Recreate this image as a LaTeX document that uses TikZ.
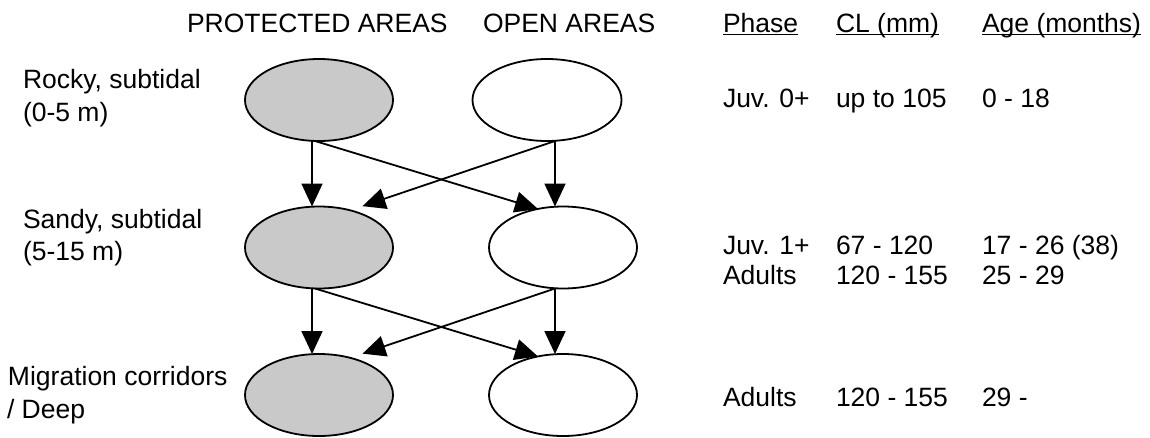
\documentclass[tikz,border=0pt]{standalone}
\usepackage{fontspec}
\setmainfont{Liberation Sans}
\usetikzlibrary{shapes.geometric,arrows.meta}
\begin{document}
\begin{tikzpicture}[x=1pt,y=-1pt,
  every node/.style={inner sep=0pt,outer sep=0pt},
  lbl/.style={anchor=base west,font=\fontsize{26.5}{32}\selectfont},
  zone/.style={ellipse,draw=black,line width=1.8pt,minimum width=148pt,minimum height=82pt},
  prot/.style={zone,fill=gray!42},
  open/.style={zone,fill=white},
  arr/.style={line width=1.8pt,-{Triangle[length=23pt,width=21pt]}},
  uline/.style={line width=1.3pt}]
\useasboundingbox (0,0) rectangle (1150,437);
% column headers
\node[lbl] (hp) at (187,32) {PROTECTED AREAS};
\node[lbl] (ho) at (483,32) {OPEN AREAS};
\node[lbl] (hph) at (723,32) {Phase};
\node[lbl] (hcl) at (836,32) {CL (mm)};
\node[lbl] (hag) at (982,32) {Age (months)};
\draw[uline] ([yshift=-2.5pt]hph.base west) -- ([yshift=-2.5pt]hph.base east);
\draw[uline] ([yshift=-2.5pt]hcl.base west) -- ([yshift=-2.5pt]hcl.base east);
\draw[uline] ([yshift=-2.5pt]hag.base west) -- ([yshift=-2.5pt]hag.base east);
% row labels
\node[lbl] (r1a) at (23,88) {Rocky, subtidal};
\node[lbl] (r1b) at (23,121) {(0-5 m)};
\node[lbl] (r2a) at (23,228) {Sandy, subtidal};
\node[lbl] (r2b) at (23,260) {(5-15 m)};
\node[lbl] (r3a) at (8,385) {Migration corridors};
\node[lbl] (r3b) at (7,418) {/ Deep};
% ellipses
\node[prot] (g1) at (319,100) {};
\node[prot] (g2) at (319,247.5) {};
\node[prot] (g3) at (319,395) {};
\node[open,minimum width=149pt] (w1) at (547,100) {};
\node[open] (w2) at (563,247.5) {};
\node[open] (w3) at (563,395) {};
% arrows
\draw[arr] ([xshift=-7pt]g1.south) -- ([xshift=-7pt]g2.north);
\draw[arr] ([xshift=-4pt]g1.south) -- (w2.123);
\draw[arr] ([xshift=8pt]w1.south) -- ([xshift=-8pt]w2.north);
\draw[arr,shorten >=13pt] ([xshift=8pt]w1.south) -- (g2.50);
\draw[arr] ([xshift=-7pt]g2.south) -- ([xshift=-7pt]g3.north);
\draw[arr] ([xshift=-4pt]g2.south) -- (w3.123);
\draw[arr] ([xshift=-8pt]w2.south) -- ([xshift=-8pt]w3.north);
\draw[arr,shorten >=13pt] ([xshift=-8pt]w2.south) -- (g3.50);
% table values
\node[lbl] (p1) at (723,107) {Juv. 0+};
\node[lbl] (c1) at (836,107) {up to 105};
\node[lbl] (a1) at (982,107) {0 - 18};
\node[lbl] (p2) at (723,254) {Juv. 1+};
\node[lbl] (c2) at (836,254) {67 - 120};
\node[lbl] (a2) at (982,254) {17 - 26 (38)};
\node[lbl] (p3) at (723,284) {Adults};
\node[lbl] (c3) at (836,284) {120 - 155};
\node[lbl] (a3) at (982,284) {25 - 29};
\node[lbl] (p4) at (723,406) {Adults};
\node[lbl] (c4) at (836,406) {120 - 155};
\node[lbl] (a4) at (982,406) {29 -};
\end{tikzpicture}
\end{document}
